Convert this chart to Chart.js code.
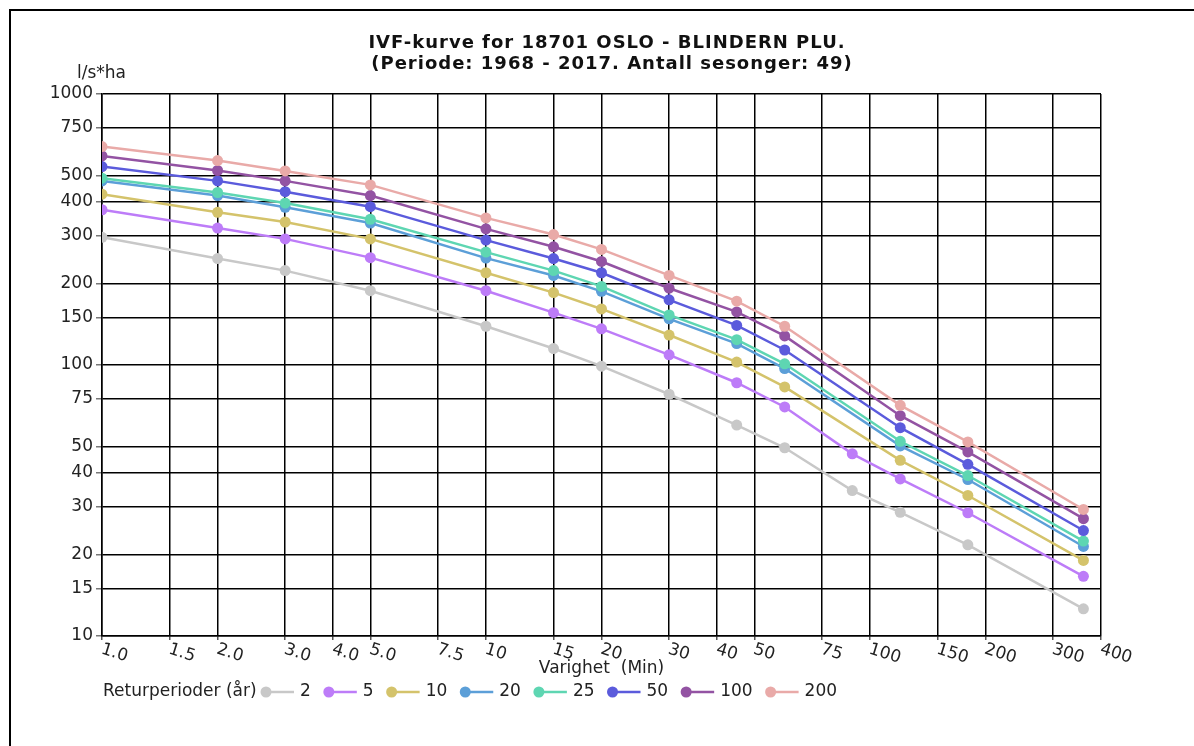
<!DOCTYPE html>
<html>
<head>
<meta charset="utf-8">
<script src="https://cdn.jsdelivr.net/npm/chart.js@4.4.1/dist/chart.umd.min.js"></script>
<style>
  html, body { margin: 0; padding: 0; background: #fff; }
  #wrap { width: 1194px; height: 746px; position: relative; }
</style>
</head>
<body>
<div id="wrap"><canvas id="ivfChart" width="1194" height="746"></canvas></div>
<script>
// Durations (min) and tick labels
const durations = [1, 2, 3, 5, 10, 15, 20, 30, 45, 60, 90, 120, 180, 360];
const xTicks = [1, 1.5, 2, 3, 4, 5, 7.5, 10, 15, 20, 30, 40, 50, 75, 100, 150, 200, 300, 400];
const yTicks = [10, 15, 20, 30, 40, 50, 75, 100, 150, 200, 300, 400, 500, 750, 1000];

// Return periods (years)
const returnPeriods = ['2', '5', '10', '20', '25', '50', '100', '200'];

// Intensity l/s*ha per return period (null = no point at that duration)
const rp2   = [296, 247, 223, 188, 139, 115, 99, 78, 60, 49.5, 34.4, 28.6, 21.7, 12.6];
const rp5   = [374, 320, 292, 249, 188, 156, 136, 109, 86, 70, 47, 38, 28.5, 16.6];
const rp10  = [427, 366, 337, 292, 219, 185, 161, 129, 102.5, 83, null, 44.5, 33, 19];
const rp20  = [478, 422, 382, 334, 248, 214, 187, 148, 120, 97, null, 50.3, 37.8, 21.4];
const rp25  = [489, 433, 396, 345, 261, 223, 195, 153, 124, 101, null, 52.3, 39.1, 22.4];
const rp50  = [540, 478, 436, 384, 289, 247, 219, 174, 140, 113.6, null, 58.7, 43, 24.5];
const rp100 = [591, 522, 478, 422, 318, 273, 241, 192, 157, 128, null, 65, 47.8, 27.1];
const rp200 = [640, 568, 520, 462, 349, 303, 267, 214, 172, 139, null, 71, 52, 29.3];

const seriesValues = [rp2, rp5, rp10, rp20, rp25, rp50, rp100, rp200];
const seriesColors = ['#c8c8c8', '#bd7cf8', '#d4c36b', '#5c9fd8', '#5ed6b2', '#5b5bdc', '#9353a3', '#e9aaa8'];

const FONT = "'DejaVu Sans', sans-serif";

function toPoints(values) {
    const pts = [];
    values.forEach((v, i) => {
        if (v !== null) pts.push({ x: durations[i], y: v });
    });
    return pts;
}

function xLabel(v) {
    return v < 10 ? v.toFixed(1) : String(v);
}

// Title, unit label, slanted x labels, axis title, legend and frame
const decorations = {
    id: 'decorations',
    afterDraw(chart) {
        const ctx = chart.ctx;
        const area = chart.chartArea;
        const xScale = chart.scales.x;
        ctx.save();

        // outer frame (only top and left edges visible)
        ctx.strokeStyle = '#000';
        ctx.lineWidth = 2;
        ctx.beginPath();
        ctx.moveTo(10, 746);
        ctx.lineTo(10, 10);
        ctx.lineTo(1194, 10);
        ctx.stroke();

        // title
        ctx.fillStyle = '#111';
        ctx.textAlign = 'center';
        ctx.textBaseline = 'middle';
        ctx.font = 'bold 18px ' + FONT;
        ctx.letterSpacing = '1px';
        ctx.fillText('IVF-kurve for 18701 OSLO - BLINDERN PLU.', 607, 43);
        ctx.fillText('(Periode: 1968 - 2017. Antall sesonger: 49)', 612, 64);
        ctx.letterSpacing = '0px';

        // unit label
        ctx.font = '17px ' + FONT;
        ctx.textAlign = 'left';
        ctx.fillStyle = '#222';
        ctx.fillText('l/s*ha', 77, 74);

        // slanted x tick labels
        ctx.font = '17px ' + FONT;
        ctx.textBaseline = 'top';
        xScale.ticks.forEach(t => {
            const px = xScale.getPixelForValue(t.value);
            ctx.save();
            ctx.translate(px + 2, area.bottom + 5);
            ctx.rotate(0.3);
            ctx.fillText(xLabel(t.value), 0, 0);
            ctx.restore();
        });

        // x axis title
        ctx.font = '17px ' + FONT;
        ctx.textAlign = 'center';
        ctx.textBaseline = 'middle';
        ctx.fillText('Varighet  (Min)', (area.left + area.right) / 2, 669);

        // legend
        const ly = 692;
        ctx.textAlign = 'left';
        ctx.fillText('Returperioder (år)', 103, ly);
        let lx = 260;
        chart.data.datasets.forEach(ds => {
            ctx.strokeStyle = ds.borderColor;
            ctx.fillStyle = ds.borderColor;
            ctx.lineWidth = 2.5;
            ctx.beginPath();
            ctx.moveTo(lx + 5, ly);
            ctx.lineTo(lx + 34, ly);
            ctx.stroke();
            ctx.beginPath();
            ctx.arc(lx + 6, ly, 5.5, 0, Math.PI * 2);
            ctx.fill();
            ctx.fillStyle = '#222';
            ctx.fillText(ds.label, lx + 40, ly);
            lx += 40 + ctx.measureText(ds.label).width + 12;
        });

        ctx.restore();
    }
};

const ctx = document.getElementById('ivfChart').getContext('2d');

const datasets = returnPeriods.map((rp, i) => ({
    label: rp,
    data: toPoints(seriesValues[i]),
    borderColor: seriesColors[i],
    backgroundColor: seriesColors[i],
    pointBackgroundColor: seriesColors[i],
    pointBorderColor: seriesColors[i],
    borderWidth: 2.5,
    pointRadius: 5.5,
    pointBorderWidth: 0,
    tension: 0,
    order: returnPeriods.length - i
}));

new Chart(ctx, {
    type: 'line',
    data: { datasets },
    options: {
        responsive: false,
        animation: false,
        layout: { padding: { left: 42, right: 93, top: 94, bottom: 80 } },
        plugins: {
            legend: { display: false },
            title: { display: false },
            tooltip: { enabled: false }
        },
        scales: {
            x: {
                type: 'logarithmic',
                min: 1,
                max: 400,
                afterBuildTicks: scale => { scale.ticks = xTicks.map(v => ({ value: v })); },
                afterFit: scale => { scale.height = 30; },
                ticks: { display: false },
                grid: { color: '#000', lineWidth: 1.5, tickLength: 4, tickColor: '#555' },
                border: { color: '#000', width: 1.5 }
            },
            y: {
                type: 'logarithmic',
                min: 10,
                max: 1000,
                afterBuildTicks: scale => { scale.ticks = yTicks.map(v => ({ value: v })); },
                afterFit: scale => { scale.width = 60; },
                ticks: {
                    color: '#222',
                    padding: 3,
                    font: { family: FONT, size: 17 },
                    callback: v => String(v)
                },
                grid: { color: '#000', lineWidth: 1.5, tickLength: 6, tickColor: '#777' },
                border: { color: '#000', width: 1.5 }
            }
        }
    },
    plugins: [decorations]
});
</script>
</body>
</html>
